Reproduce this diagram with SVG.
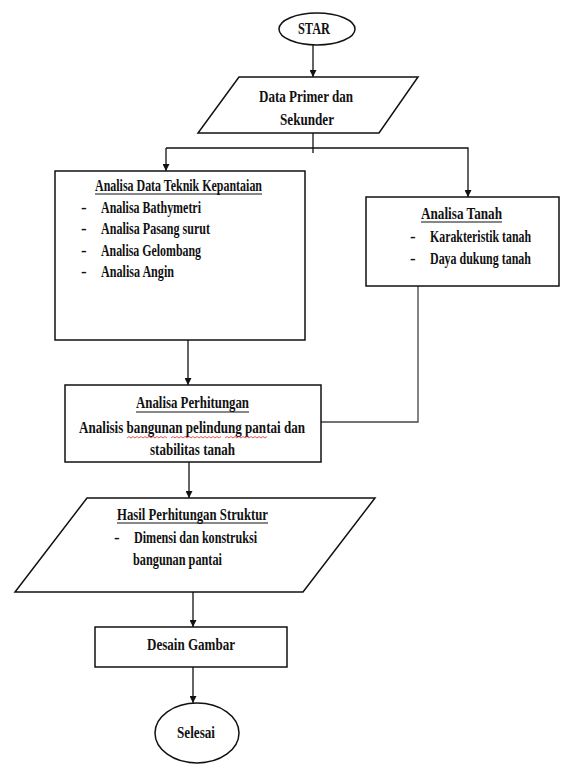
<svg xmlns="http://www.w3.org/2000/svg" width="561" height="765" viewBox="0 0 561 765">
<defs>
<style>
.shape{fill:#fff;stroke:#111;stroke-width:1.5}
.conn{fill:none;stroke:#111;stroke-width:1.3}
.t{font-family:"Liberation Serif","Times New Roman",serif;font-weight:bold;font-size:17px;fill:#111}
.c{text-anchor:middle}
.ul{stroke:#111;stroke-width:1.2}
.sq{fill:none;stroke:#e03030;stroke-width:0.8}
</style>
<marker id="ah" viewBox="0 0 10 10" refX="10" refY="5" markerWidth="7" markerHeight="7" orient="auto" markerUnits="userSpaceOnUse">
<path d="M0,0 L10,5 L0,10 z" fill="#111"/>
</marker>
</defs>
<rect width="561" height="765" fill="#fff"/>

<g id="connectors">
<line class="conn" x1="313" y1="45" x2="313" y2="77" marker-end="url(#ah)"/>
<line class="conn" x1="313" y1="133" x2="313" y2="153"/>
<polyline class="conn" points="166,148 468,148 468,197" marker-end="url(#ah)"/>
<line class="conn" x1="166" y1="148" x2="166" y2="171" marker-end="url(#ah)"/>
<line class="conn" x1="188" y1="340" x2="188" y2="385" marker-end="url(#ah)"/>
<polyline class="conn" points="418,286 418,422 321,422" style="stroke:#444"/>
<line class="conn" x1="189" y1="462" x2="189" y2="498" marker-end="url(#ah)"/>
<line class="conn" x1="193" y1="592" x2="193" y2="627" marker-end="url(#ah)"/>
<line class="conn" x1="193" y1="667" x2="193" y2="703" marker-end="url(#ah)"/>
</g>

<g id="start">
<ellipse class="shape" cx="317" cy="29" rx="38" ry="16"/>
<text class="t c" x="314" y="34" textLength="32" lengthAdjust="spacingAndGlyphs">STAR</text>
</g>

<g id="data-primer">
<polygon class="shape" points="239,77 418,77 379,133 198,133"/>
<text class="t c" x="306" y="102" textLength="94" lengthAdjust="spacingAndGlyphs">Data Primer dan</text>
<text class="t c" x="307" y="125" textLength="54" lengthAdjust="spacingAndGlyphs">Sekunder</text>
</g>

<g id="analisa-data">
<rect class="shape" x="55" y="171" width="250" height="169"/>
<text class="t" x="95" y="191" textLength="167" lengthAdjust="spacingAndGlyphs">Analisa Data Teknik Kepantaian</text>
<line class="ul" x1="95" y1="194" x2="262" y2="194"/>
<text class="t" x="81" y="213">-</text>
<text class="t" x="101" y="213" textLength="100" lengthAdjust="spacingAndGlyphs">Analisa Bathymetri</text>
<text class="t" x="81" y="234">-</text>
<text class="t" x="101" y="234" textLength="109" lengthAdjust="spacingAndGlyphs">Analisa Pasang surut</text>
<text class="t" x="81" y="256">-</text>
<text class="t" x="101" y="256" textLength="100" lengthAdjust="spacingAndGlyphs">Analisa Gelombang</text>
<text class="t" x="81" y="277">-</text>
<text class="t" x="101" y="277" textLength="73" lengthAdjust="spacingAndGlyphs">Analisa Angin</text>
</g>

<g id="analisa-tanah">
<rect class="shape" x="366" y="197" width="193" height="89"/>
<text class="t" x="421" y="219" textLength="81" lengthAdjust="spacingAndGlyphs">Analisa Tanah</text>
<line class="ul" x1="421" y1="222" x2="502" y2="222"/>
<text class="t" x="410" y="242">-</text>
<text class="t" transform="translate(430,242) scale(0.697,1)">Karakteristik tanah</text>
<text class="t" x="410" y="264">-</text>
<text class="t" transform="translate(430,264) scale(0.703,1)">Daya dukung tanah</text>
</g>

<g id="analisa-perhitungan">
<rect class="shape" x="65" y="385" width="256" height="77"/>
<text class="t" x="136" y="408" textLength="113" lengthAdjust="spacingAndGlyphs">Analisa Perhitungan</text>
<line class="ul" x1="136" y1="412" x2="249" y2="412"/>
<text class="t" x="79" y="433" textLength="226" lengthAdjust="spacingAndGlyphs">Analisis bangunan pelindung pantai dan</text>
<path class="sq" d="M127,438 l2,-1.5 l2,1.5 l2,-1.5 l2,1.5 l2,-1.5 l2,1.5 l2,-1.5 l2,1.5 l2,-1.5 l2,1.5 l2,-1.5 l2,1.5 l2,-1.5 l2,1.5 l2,-1.5 l2,1.5 l2,-1.5 l2,1.5 l2,-1.5 l2,1.5"/>
<path class="sq" d="M171,438 l2,-1.5 l2,1.5 l2,-1.5 l2,1.5 l2,-1.5 l2,1.5 l2,-1.5 l2,1.5 l2,-1.5 l2,1.5 l2,-1.5 l2,1.5 l2,-1.5 l2,1.5 l2,-1.5 l2,1.5 l2,-1.5 l2,1.5 l2,-1.5 l2,1.5 l2,-1.5 l2,1.5 l2,-1.5 l2,1.5 l2,-1.5"/>
<path class="sq" d="M225,438 l2,-1.5 l2,1.5 l2,-1.5 l2,1.5 l2,-1.5 l2,1.5 l2,-1.5 l2,1.5 l2,-1.5 l2,1.5 l2,-1.5 l2,1.5 l2,-1.5 l2,1.5 l2,-1.5 l2,1.5 l2,-1.5 l2,1.5 l2,-1.5 l2,1.5 l2,-1.5"/>
<text class="t" x="150" y="455" textLength="85" lengthAdjust="spacingAndGlyphs">stabilitas tanah</text>
</g>

<g id="hasil-perhitungan">
<polygon class="shape" points="87,498 375,498 303,592 15,592"/>
<text class="t" x="117" y="520" textLength="151" lengthAdjust="spacingAndGlyphs">Hasil Perhitungan Struktur</text>
<line class="ul" x1="117" y1="523" x2="268" y2="523"/>
<text class="t" x="114" y="543">-</text>
<text class="t" x="134" y="543" textLength="123" lengthAdjust="spacingAndGlyphs">Dimensi dan konstruksi</text>
<text class="t" x="133" y="565" textLength="89" lengthAdjust="spacingAndGlyphs">bangunan pantai</text>
</g>

<g id="desain-gambar">
<rect class="shape" x="95" y="627" width="192" height="40"/>
<text class="t" x="147" y="650" textLength="88" lengthAdjust="spacingAndGlyphs">Desain Gambar</text>
</g>

<g id="selesai">
<ellipse class="shape" cx="197" cy="733" rx="42" ry="30"/>
<text class="t c" x="196" y="738" textLength="38" lengthAdjust="spacingAndGlyphs">Selesai</text>
</g>
</svg>
